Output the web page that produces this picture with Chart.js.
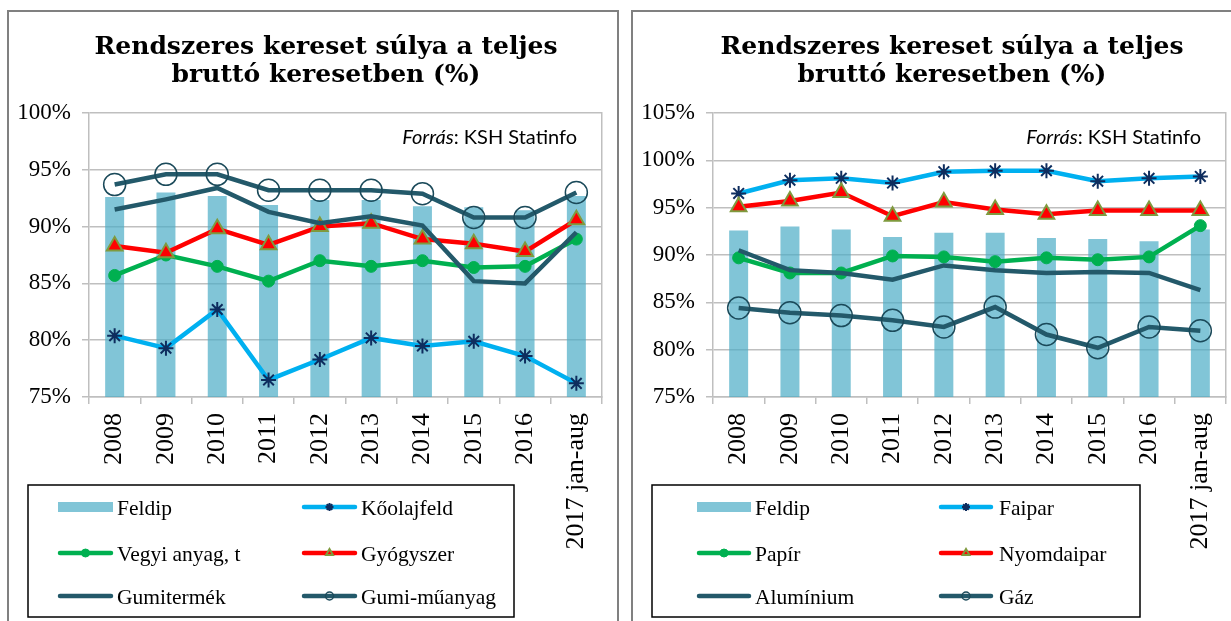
<!DOCTYPE html>
<html>
<head>
<meta charset="utf-8">
<script src="https://cdn.jsdelivr.net/npm/chart.js@4.4.1/dist/chart.umd.min.js"></script>
<style>
  html, body { margin: 0; padding: 0; background: #fff; overflow: hidden; width: 1231px; height: 621px; }
  .panel { position: absolute; top: 10px; width: 612px; height: 640px; border: 2px solid #808080; box-sizing: border-box; background: #fff; overflow: hidden; }
  .panel canvas { position: absolute; left: 0; top: 0; }
</style>
</head>
<body>
<div class="panel" style="left:7px"><canvas id="left" width="634" height="609"></canvas></div>
<div class="panel" style="left:631px"><canvas id="right" width="638" height="609"></canvas></div>

<script>
// categories
var years = ['2008', '2009', '2010', '2011', '2012', '2013', '2014', '2015', '2016', '2017 jan-aug'];

// shared bar series
var feldip = [92.6, 93.0, 92.7, 91.9, 92.35, 92.35, 91.8, 91.7, 91.45, 92.7];

// left chart
var koolajfeld  = [80.4, 79.3, 82.7, 76.5, 78.3, 80.2, 79.5, 79.9, 78.6, 76.2];
var vegyiAnyag  = [85.7, 87.5, 86.5, 85.2, 87.0, 86.5, 87.0, 86.4, 86.5, 88.9];
var gyogyszer   = [88.3, 87.7, 89.8, 88.4, 90.0, 90.3, 88.9, 88.5, 87.8, 90.6];
var gumitermek  = [91.5, 92.4, 93.4, 91.3, 90.3, 90.9, 90.1, 85.2, 85.0, 89.5];
var gumiMuanyag = [93.7, 94.6, 94.6, 93.2, 93.2, 93.2, 92.9, 90.8, 90.8, 93.0];

// right chart
var faipar     = [96.5, 97.9, 98.1, 97.6, 98.8, 98.9, 98.9, 97.8, 98.1, 98.3];
var papir      = [89.7, 88.1, 88.1, 89.9, 89.8, 89.3, 89.7, 89.5, 89.8, 93.1];
var nyomdaipar = [95.1, 95.7, 96.6, 94.1, 95.6, 94.8, 94.3, 94.7, 94.7, 94.7];
var aluminium  = [90.5, 88.4, 88.1, 87.4, 88.9, 88.4, 88.1, 88.2, 88.1, 86.3];
var gaz        = [84.4, 83.9, 83.6, 83.1, 82.4, 84.5, 81.6, 80.2, 82.4, 82.0];

var titleLines = ['Rendszeres kereset súlya a teljes', 'bruttó keresetben (%)'];

var TEAL = '#23596A';
var GRID = '#BFBFBF';

// dataset styles
function barSet(label, data) {
    return { type: 'bar', label: label, data: data, order: 10,
             backgroundColor: 'rgba(75,172,198,0.7)', barPercentage: 0.37, categoryPercentage: 1 };
}
function starLine(label, data) {
    return { type: 'line', label: label, data: data, order: 5, borderColor: '#00B0F0', borderWidth: 4.5,
             pointStyle: 'star', pointRadius: 7.5, pointBorderColor: '#0E2D5E', pointBackgroundColor: '#0E2D5E', pointBorderWidth: 2 };
}
function dotLine(label, data) {
    return { type: 'line', label: label, data: data, order: 4, borderColor: '#00B050', borderWidth: 4.5,
             pointStyle: 'circle', pointRadius: 6, pointBorderColor: '#00B050', pointBackgroundColor: '#00B050', pointBorderWidth: 1 };
}
function triLine(label, data) {
    return { type: 'line', label: label, data: data, order: 3, borderColor: '#FF0000', borderWidth: 4.5,
             pointStyle: 'triangle', pointRadius: 9, pointBorderColor: '#7F9A3E', pointBackgroundColor: '#FF0000', pointBorderWidth: 2 };
}
function plainLine(label, data) {
    return { type: 'line', label: label, data: data, order: 2, borderColor: TEAL, borderWidth: 4.5, pointRadius: 0 };
}
function ringLine(label, data) {
    return { type: 'line', label: label, data: data, order: 1, borderColor: TEAL, borderWidth: 4.5,
             pointStyle: 'circle', pointRadius: 11, pointBorderColor: '#1B4A5A', pointBackgroundColor: 'rgba(0,0,0,0)', pointBorderWidth: 1.5 };
}

// boxed two-column legend below the plot
var boxLegend = {
    id: 'boxLegend',
    afterDraw: function (chart, args, opts) {
        var ctx = chart.ctx;
        ctx.save();
        ctx.strokeStyle = '#000';
        ctx.lineWidth = 1.5;
        ctx.strokeRect(opts.box[0], opts.box[1], opts.box[2], opts.box[3]);
        ctx.font = '21.5px "Liberation Serif"';
        ctx.textBaseline = 'middle';
        chart.data.datasets.forEach(function (ds, i) {
            var col = i % 2, row = Math.floor(i / 2);
            var x0 = opts.swatchX[col], x1 = x0 + opts.swatchW, y = opts.rowY[row];
            if (ds.type === 'bar') {
                ctx.fillStyle = ds.backgroundColor;
                ctx.fillRect(x0, y - 5, x1 - x0, 10);
            } else {
                ctx.strokeStyle = ds.borderColor;
                ctx.lineWidth = 4.5;
                ctx.lineCap = 'round';
                ctx.beginPath();
                ctx.moveTo(x0 + 2, y);
                ctx.lineTo(x1 - 2, y);
                ctx.stroke();
                if (ds.pointRadius > 0) {
                    ctx.lineCap = 'butt';
                    ctx.fillStyle = ds.pointBackgroundColor;
                    ctx.strokeStyle = ds.pointBorderColor;
                    ctx.lineWidth = ds.pointBorderWidth;
                    Chart.helpers.drawPoint(ctx, { pointStyle: ds.pointStyle, radius: 4, rotation: 0,
                        borderWidth: ds.pointBorderWidth }, (x0 + x1) / 2, y);
                }
            }
            ctx.fillStyle = '#000';
            ctx.fillText(ds.label, opts.textX[col], y + 2);
        });
        ctx.restore();
    }
};

// source note in the top right corner of the plot
var plotNote = {
    id: 'plotNote',
    afterDraw: function (chart) {
        var ctx = chart.ctx, a = chart.chartArea;
        ctx.save();
        ctx.textBaseline = 'middle';
        ctx.fillStyle = '#000';
        ctx.font = '20px Lato';
        var rest = ': KSH Statinfo';
        var xr = a.right - 25, y = a.top + 25;
        var w2 = ctx.measureText(rest).width;
        ctx.fillText(rest, xr - w2, y);
        ctx.font = 'italic 20px Lato';
        var w1 = ctx.measureText('Forrás').width;
        ctx.fillText('Forrás', xr - w2 - w1, y);
        ctx.restore();
    }
};

// rightPad: width of the empty right axis, keeps the title centred like the original
function makeChart(id, datasets, yMax, rightPad, legendOpts) {
    return new Chart(document.getElementById(id), {
        data: { labels: years, datasets: datasets },
        plugins: [boxLegend, plotNote],
        options: {
            responsive: false,
            animation: false,
            layout: { padding: 0 },
            elements: { line: { tension: 0 } },
            plugins: {
                legend: { display: false },
                tooltip: { enabled: false },
                title: {
                    display: true,
                    text: titleLines,
                    color: '#000',
                    font: { family: '"DejaVu Serif"', size: 25, weight: 'bold', lineHeight: 28 / 25 },
                    padding: { top: 21, bottom: 24 }
                },
                boxLegend: legendOpts
            },
            scales: {
                x: {
                    grid: { drawOnChartArea: false, color: GRID, lineWidth: 1.5, tickLength: 7, offset: true },
                    border: { color: GRID, width: 1.5 },
                    ticks: { autoSkip: false, minRotation: 90, maxRotation: 90, padding: 9, color: '#000',
                             font: { family: '"Liberation Serif"', size: 26 } },
                    afterFit: function (scale) { scale.height = 224; }
                },
                y: {
                    min: 75, max: yMax,
                    grid: { color: GRID, lineWidth: 1.5, tickLength: 7 },
                    border: { color: GRID, width: 1.5 },
                    ticks: { stepSize: 5, padding: 11, color: '#000',
                             font: { family: '"Liberation Serif"', size: 23 },
                             callback: function (v) { return v + '%'; } },
                    afterFit: function (scale) { scale.width = 80; }
                },
                frame: {
                    type: 'linear', position: 'right', min: 75, max: yMax,
                    grid: { drawOnChartArea: false, drawTicks: false },
                    border: { color: GRID, width: 1.5 },
                    ticks: { display: false },
                    afterFit: function (scale) { scale.width = rightPad; }
                }
            }
        }
    });
}

makeChart('left', [
    barSet('Feldip', feldip),
    starLine('Kőolajfeld', koolajfeld),
    dotLine('Vegyi anyag, t', vegyiAnyag),
    triLine('Gyógyszer', gyogyszer),
    plainLine('Gumitermék', gumitermek),
    ringLine('Gumi-műanyag', gumiMuanyag)
], 100, 41, { box: [19, 473, 486, 132], swatchX: [49, 293], swatchW: 55, textX: [108, 352], rowY: [495, 541, 584] });

makeChart('right', [
    barSet('Feldip', feldip),
    starLine('Faipar', faipar),
    dotLine('Papír', papir),
    triLine('Nyomdaipar', nyomdaipar),
    plainLine('Alumínium', aluminium),
    ringLine('Gáz', gaz)
], 105, 45, { box: [19, 473, 488, 132], swatchX: [64, 306], swatchW: 54, textX: [122, 366], rowY: [495, 541, 584] });
</script>
</body>
</html>
